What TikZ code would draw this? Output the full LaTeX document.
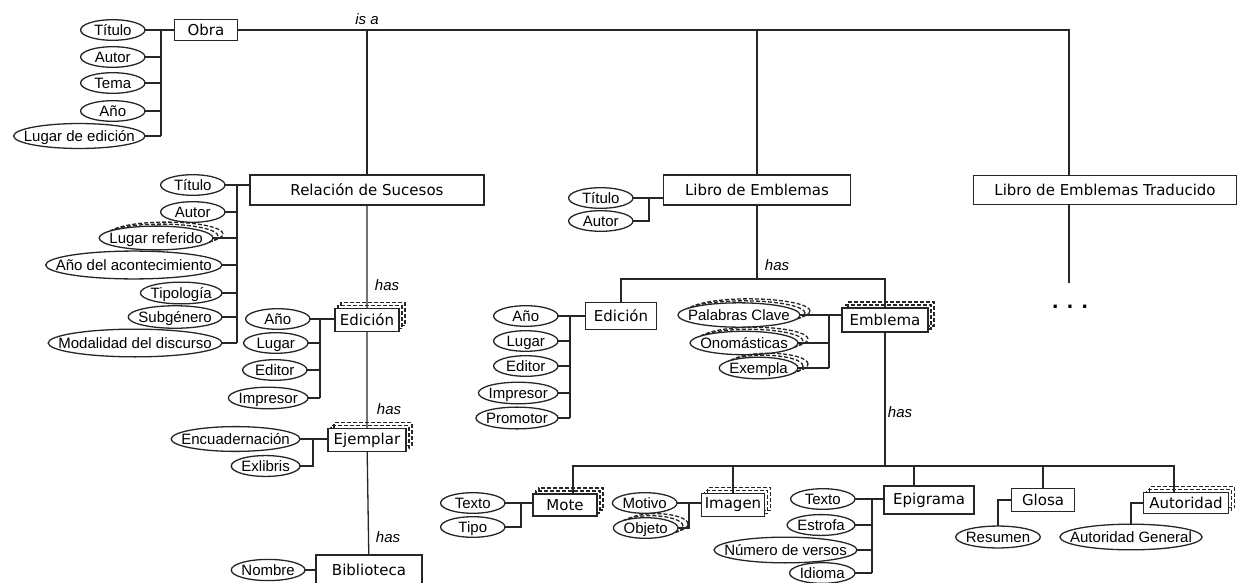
\documentclass[tikz,border=0pt]{standalone}
\usepackage{fontspec}
\setmainfont{Liberation Sans}
\newfontfamily\boxfont{DejaVu Sans}
\usetikzlibrary{calc,shadows}

\pgfdeclarelayer{lines}
\pgfdeclarelayer{back}
\pgfsetlayers{lines,back,main}

% ellipse round an attribute node: node, shift, extra options
\newcommand\attrring[3]{%
  \path[draw=black!85, line width=1.3pt, #3] let \p1=($(#1.north east)-(#1.center)$) in
    ($(#1.center)+(#2)$) ellipse [x radius=\x1, y radius={\y1+0.065*\x1}];}

\tikzset{
  attrbase/.style={font=\fontsize{15}{15}\selectfont, inner xsep=10pt, inner ysep=1pt,
    text height=12.5pt, text depth=1.5pt, minimum width=64pt},
  attr/.style={attrbase, append after command={\pgfextra{\begin{pgfonlayer}{back}
    \attrring{\tikzlastnode}{0pt,0pt}{fill=white}\end{pgfonlayer}}}},
  multiattr/.style={attrbase, append after command={\pgfextra{\begin{pgfonlayer}{back}
    \attrring{\tikzlastnode}{10pt,4pt}{dash pattern=on 4pt off 2pt}
    \attrring{\tikzlastnode}{5pt,2pt}{dash pattern=on 4pt off 2pt}
    \attrring{\tikzlastnode}{0pt,0pt}{fill=white}\end{pgfonlayer}}}},
  entity/.style={draw=black!85, line width=1.3pt, fill=white, inner sep=2pt,
    font=\boxfont\fontsize{15}{15}\selectfont},
  multientity/.style={entity,
    copy shadow={shadow xshift=6pt, shadow yshift=6pt, draw=black!85, fill=none, dash pattern=on 4pt off 2pt},
    copy shadow={shadow xshift=3pt, shadow yshift=3pt, draw=black!85, fill=none, dash pattern=on 4pt off 2pt}},
  link/.style={draw=black!85, line width=1.3pt},
  role/.style={font=\itshape\fontsize{15}{15}\selectfont},
}

\begin{document}
\begin{tikzpicture}[x=1pt, y=-1pt]
\useasboundingbox (0,0) rectangle (1241,583);

% entities
\node (obra) [entity, minimum width=63pt, minimum height=21pt] at (206,30) {Obra};
\node (rel) [entity, minimum width=234pt, minimum height=30pt] at (367,190) {Relación de Sucesos};
\node (libro) [entity, minimum width=187pt, minimum height=30pt] at (757,190) {Libro de Emblemas};
\node (trad) [entity, minimum width=263pt, minimum height=29pt] at (1105,190) {Libro de Emblemas Traducido};
\node (edR) [multientity, minimum width=64pt, minimum height=23pt] at (367,320) {Edición};
\node (ejem) [multientity, minimum width=78pt, minimum height=23pt] at (367,440) {Ejemplar};
\node (bib) [entity, minimum width=106pt, minimum height=30pt] at (369,570) {Biblioteca};
\node (edL) [entity, minimum width=71pt, minimum height=27pt] at (621,316) {Edición};
\node (emb) [multientity, minimum width=86pt, minimum height=24pt] at (885,320) {Emblema};
\node (mote) [multientity, minimum width=64pt, minimum height=22pt] at (565,505) {Mote};
\node (imagen) [multientity, minimum width=63pt, minimum height=23pt] at (733,505) {Imagen};
\node (epig) [entity, minimum width=90pt, minimum height=28pt] at (929,500) {Epigrama};
\node (glosa) [entity, minimum width=63pt, minimum height=23pt] at (1043,500) {Glosa};
\node (autoridad) [multientity, minimum width=85pt, minimum height=21pt] at (1186,503) {Autoridad};

% attributes
\node (obTit) [attr, anchor=east] at (145,30) {Título};
\node (obAut) [attr, anchor=east] at (145,57) {Autor};
\node (obTem) [attr, anchor=east] at (145,83) {Tema};
\node (obAno) [attr, anchor=east] at (145,111) {Año};
\node (obLug) [attr, anchor=east] at (145,136) {Lugar de edición};

\node (relTit) [attr, anchor=east] at (225,185) {Título};
\node (relAut) [attr, anchor=east] at (225,212) {Autor};
\node (relLug) [multiattr, anchor=east] at (213,238) {Lugar referido};
\node (relAno) [attr, anchor=east] at (222,265) {Año del acontecimiento};
\node (relTip) [attr, anchor=east] at (222,293) {Tipología};
\node (relSub) [attr, anchor=east] at (222,317) {Subgénero};
\node (relMod) [attr, anchor=east] at (222,343) {Modalidad del discurso};

\node (edRAno) [attr, anchor=east] at (310,319) {Año};
\node (edRLug) [attr, anchor=east] at (308,343) {Lugar};
\node (edREdi) [attr, anchor=east] at (307,370) {Editor};
\node (edRImp) [attr, anchor=east] at (308,398) {Impresor};

\node (ejEnc) [attr, anchor=east] at (300,439) {Encuadernación};
\node (ejExl) [attr, anchor=east] at (300,466) {Exlibris};
\node (bibNom) [attr, anchor=east] at (305,570) {Nombre};

\node (libTit) [attr, anchor=east] at (633,198) {Título};
\node (libAut) [attr, anchor=east] at (633,221) {Autor};

\node (edLAno) [attr, anchor=east] at (558,316) {Año};
\node (edLLug) [attr, anchor=east] at (558,341) {Lugar};
\node (edLEdi) [attr, anchor=east] at (558,366) {Editor};
\node (edLImp) [attr, anchor=east] at (558,393) {Impresor};
\node (edLPro) [attr, anchor=east] at (558,418) {Promotor};

\node (embPal) [multiattr, anchor=east] at (800,315) {Palabras Clave};
\node (embOno) [multiattr, anchor=east] at (798,343) {Onomásticas};
\node (embExe) [multiattr, anchor=east] at (798,368) {Exempla};

\node (moTex) [attr, anchor=east] at (505,503) {Texto};
\node (moTip) [attr, anchor=east] at (505,527) {Tipo};
\node (imMot) [attr, anchor=east] at (677,503) {Motivo};
\node (imObj) [multiattr, anchor=east] at (678,528) {Objeto};

\node (epTex) [attr, anchor=east] at (855,499) {Texto};
\node (epEst) [attr, anchor=east] at (855,525) {Estrofa};
\node (epNum) [attr, anchor=east] at (857,550) {Número de versos};
\node (epIdi) [attr, anchor=east] at (855,573) {Idioma};

\node (glRes) [attr] at (998,537) {Resumen};
\node (auGen) [attr] at (1131,537) {Autoridad General};

% relation labels
\node (isa) [role] at (367,19) {is a};
\node (hasEd) [role] at (387,285) {has};
\node (hasEj) [role] at (389,409) {has};
\node (hasBib) [role] at (388,537) {has};
\node (hasLib) [role] at (777,265) {has};
\node (hasEmb) [role] at (900,412) {has};
\node (more) [anchor=base, font=\boxfont\bfseries\fontsize{18}{18}\selectfont] at (1070,308) {.\hspace{8pt}.\hspace{8pt}.};

\begin{pgfonlayer}{lines}
% is a
\coordinate (isaEnd) at (1069,30);
\coordinate (tradEnd) at (1069,283);
\draw [link] (obra) -- (isaEnd) -- (tradEnd);
\draw [link] (rel) -- (rel |- obra);
\draw [link] (libro) -- (libro |- obra);

% Obra
\coordinate (obBr) at (161,30);
\draw [link] (obTit) -- (obra);
\foreach \n in {obAut, obTem, obAno, obLug}
  \draw [link] (\n) -- (\n -| obBr);
\draw [link] (obBr) -- (obBr |- obLug);

% Relacion de Sucesos
\coordinate (relBr) at (237,185);
\draw [link] (relTit) -- (relTit -| rel);
\foreach \n in {relAut, relLug, relAno, relTip, relSub, relMod}
  \draw [link] (\n) -- (\n -| relBr);
\draw [link] (relBr) -- (relBr |- relMod);
\draw [link] (rel) -- (edR) -- (ejem) -- (bib);

\coordinate (edRBr) at (320,319);
\draw [link] (edRAno) -- (edRAno -| edR);
\foreach \n in {edRLug, edREdi, edRImp}
  \draw [link] (\n) -- (\n -| edRBr);
\draw [link] (edRBr) -- (edRBr |- edRImp);

\coordinate (ejBr) at (313,439);
\draw [link] (ejEnc) -- (ejEnc -| ejem);
\draw [link] (ejExl) -- (ejExl -| ejBr) -- (ejBr);
\draw [link] (bibNom) -- (bib);

% Libro de Emblemas
\coordinate (libBr) at (649,198);
\draw [link] (libTit) -- (libTit -| libro);
\draw [link] (libAut) -- (libAut -| libBr) -- (libBr);
\coordinate (libBus) at (757,279);
\draw [link] (libro) -- (libBus);
\draw [link] (edL) |- (libBus) -| (emb);

\coordinate (edLBr) at (570,316);
\draw [link] (edLAno) -- (edLAno -| edL);
\foreach \n in {edLLug, edLEdi, edLImp, edLPro}
  \draw [link] (\n) -- (\n -| edLBr);
\draw [link] (edLBr) -- (edLBr |- edLPro);

\coordinate (embBr) at (829,315);
\draw [link] (embPal) -- (embPal -| emb);
\foreach \n in {embOno, embExe}
  \draw [link] (\n) -- (\n -| embBr);
\draw [link] (embBr) -- (embBr |- embExe);

% Emblema
\coordinate (embBus) at (885,466);
\draw [link] (emb) -- (embBus);
\draw [link] (embBus) -| ([xshift=8pt]mote.center);
\draw [link] (embBus) -| ([xshift=-15pt]epig.center);
\draw [link] (embBus) -| ([xshift=-12pt]autoridad.center);
\foreach \n in {imagen, glosa}
  \draw [link] (embBus) -| (\n);

\coordinate (moBr) at (521,503);
\draw [link] (moTex) -- (moTex -| mote);
\draw [link] (moTip) -- (moTip -| moBr) -- (moBr);

\coordinate (imBr) at (689,503);
\draw [link] (imMot) -- (imMot -| imagen);
\draw [link] (imObj) -- (imObj -| imBr) -- (imBr);

\coordinate (epBr) at (872,499);
\draw [link] (epTex) -- (epTex -| epig);
\foreach \n in {epEst, epNum, epIdi}
  \draw [link] (\n) -- (\n -| epBr);
\draw [link] (epBr) -- (epBr |- epIdi);

\draw [link] (glosa) -| (glRes);
\draw [link] (autoridad) -| (auGen);
\end{pgfonlayer}
\end{tikzpicture}
\end{document}
